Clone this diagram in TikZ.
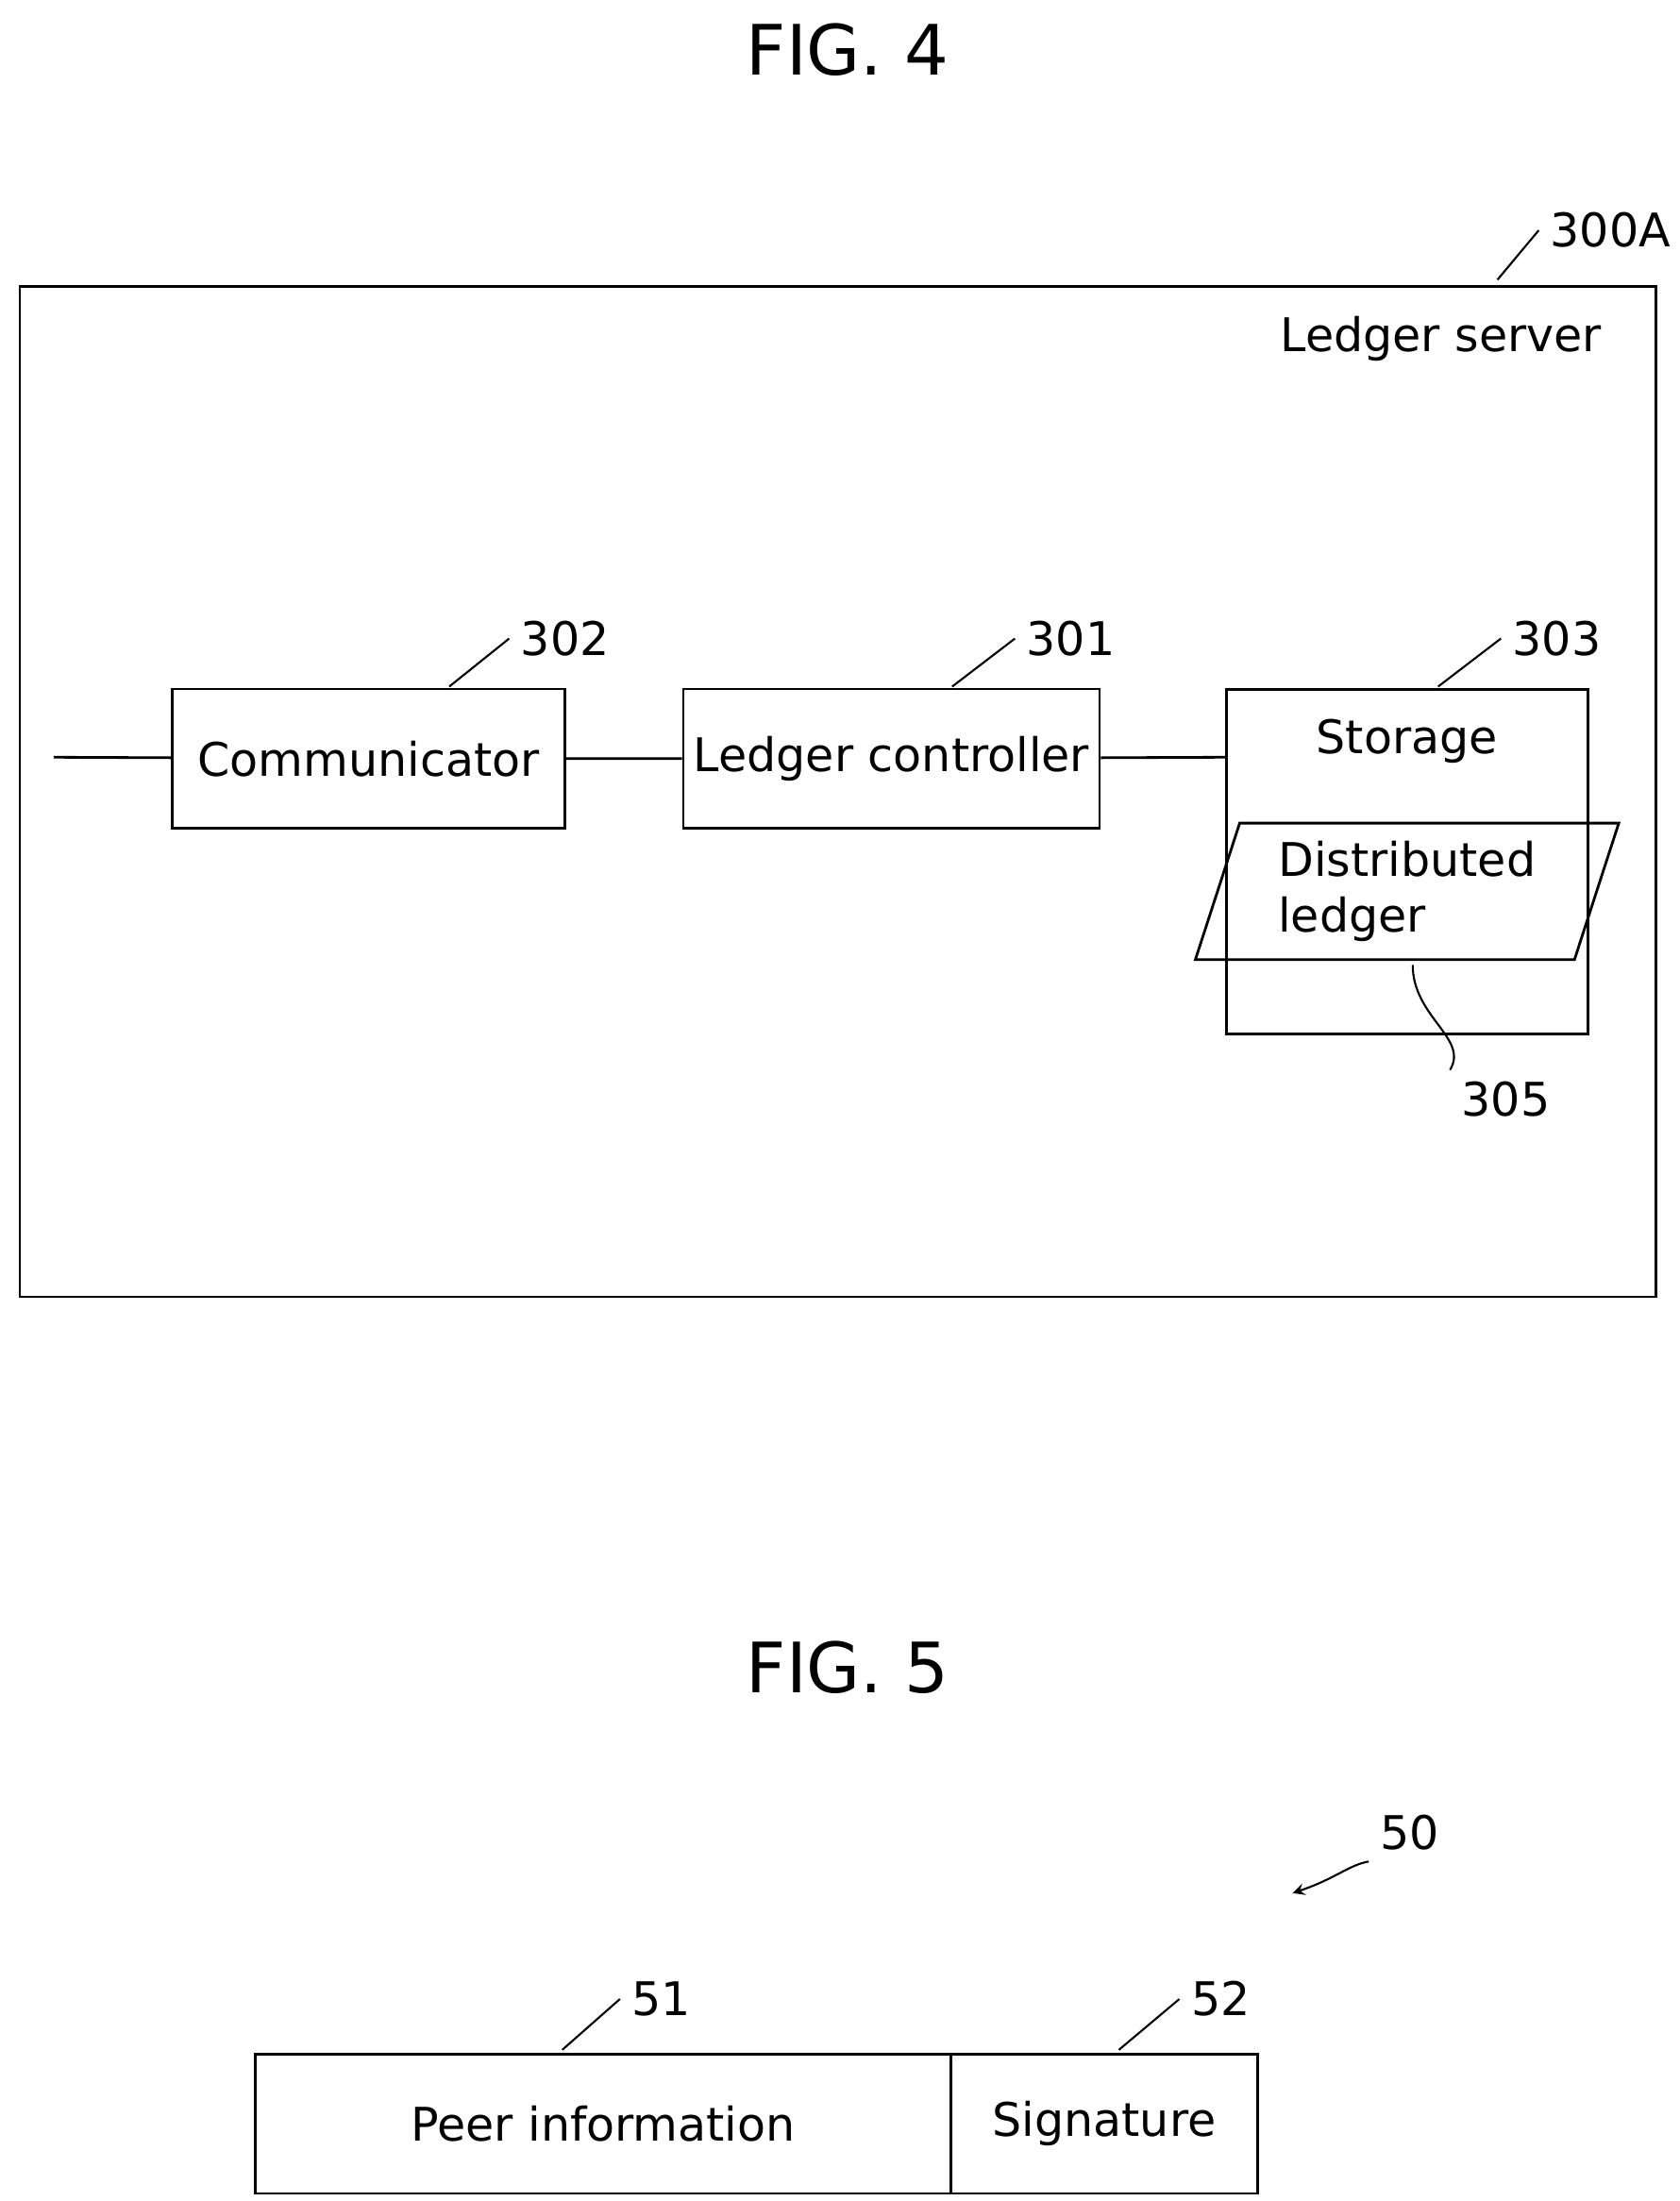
\documentclass[tikz,border=0pt]{standalone}
\usepackage{fontspec}
\setmainfont{DejaVu Sans}
\usetikzlibrary{positioning,shapes.geometric}

\tikzset{
  blk/.style={draw,thick,minimum height=1.48cm,inner sep=2pt},
  num/.style={font=\fontsize{14}{17}\selectfont},
  lead/.style={semithick},
}
\newcommand{\squig}[2]{\draw[lead] (#1) .. controls ($(#1)!0.5!(#2)+(-0.25,0.1)$) and ($(#1)!0.5!(#2)+(0.25,-0.1)$) .. (#2);}
\usetikzlibrary{calc}

\begin{document}
\begin{tikzpicture}[x=0.015cm,y=-0.015cm,font=\fontsize{14}{17}\selectfont]
        \useasboundingbox (0,0) rectangle (1189,1558);

        % FIG. 4
        \node[font=\fontsize{21}{24}\selectfont] (fig4) at (600,35) {FIG. 4};
        \draw[thick] (14,203) rectangle (1172,918);
        \node (srv) at (1020,240) {Ledger server};
        \node[num] (n300) at (1140,163) {300A};
        \coordinate (s300) at (1060,198);
        \squig{s300}{n300.west}

        \node[blk,minimum width=4.17cm] (comm) at (261,537) {Communicator};
        \node[blk,minimum width=4.42cm] (ctrl) at (631,537) {Ledger controller};
        \draw[thick] (868,488) rectangle (1124,732);
        \coordinate (stor) at (868,536);
        \node (storlbl) at (996,525) {Storage};
        \node[draw,thick,trapezium,trapezium left angle=72,trapezium right angle=108,
              minimum width=2.75cm,minimum height=1.45cm,align=left,inner sep=1pt] (dl) at (996,631)
              {Distributed\\ledger};
        \coordinate (ext) at (38,536);
        \draw[thick] (ext) -- (comm) -- (ctrl) -- (stor);

        \node[num] (n302) at (400,452) {302};
        \node[num] (n301) at (758,452) {301};
        \node[num] (n303) at (1102,452) {303};
        \node[num] (n305) at (1066,778) {305};
        \coordinate (s302) at (318,486);
        \coordinate (s301) at (674,486);
        \coordinate (s303) at (1018,486);
        \coordinate (s305) at (1000,683);
        \squig{s302}{n302.west}
        \squig{s301}{n301.west}
        \squig{s303}{n303.west}
        \draw[lead] (s305) .. controls (1000,720) and (1040,735) .. (n305.north west);

        % FIG. 5
        \node[font=\fontsize{21}{24}\selectfont] (fig5) at (600,1180) {FIG. 5};
        \node[num] (n50) at (998,1297) {50};
        \coordinate (a50) at (915,1340);
        \draw[lead,->,>=stealth] (n50.south west) .. controls (955,1320) and (945,1330) .. (a50);

        \node[blk,minimum width=7.38cm,anchor=north west] (peer) at (180,1453) {Peer information};
        \node[blk,minimum width=3.26cm,anchor=north west] (sig) at (672,1453) {Signature};
        \node[num] (n51) at (468,1415) {51};
        \node[num] (n52) at (864,1415) {52};
        \coordinate (s51) at (398,1451);
        \coordinate (s52) at (792,1451);
        \squig{s51}{n51.west}
        \squig{s52}{n52.west}
\end{tikzpicture}
\end{document}
